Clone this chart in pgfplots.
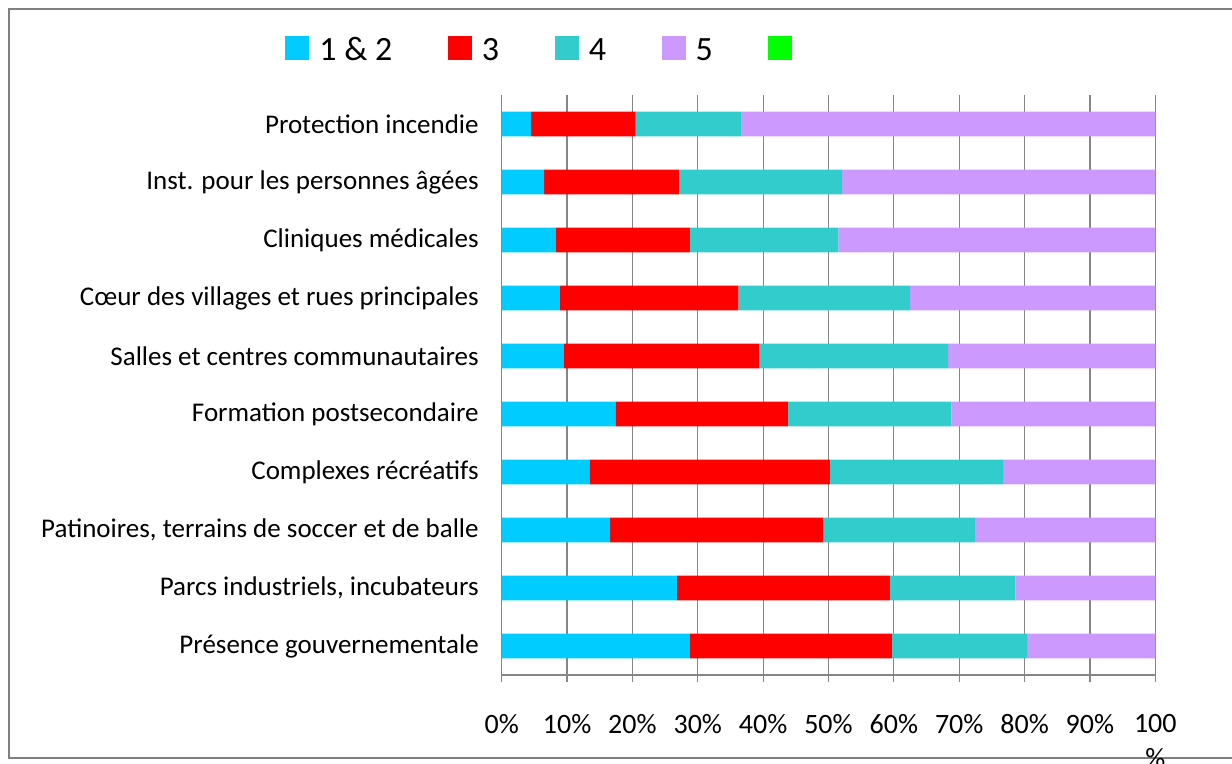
\documentclass[border=0pt]{standalone}
\usepackage{pgfplots}
\usepackage{pgfplotstable}
\pgfplotsset{compat=1.18}
\usepackage{fontspec}
\setmainfont{Carlito}

\definecolor{cOneTwo}{RGB}{0,204,255}
\definecolor{cThree}{RGB}{255,0,0}
\definecolor{cFour}{RGB}{51,204,204}
\definecolor{cFive}{RGB}{204,153,255}
\definecolor{cSix}{RGB}{0,255,0}
\definecolor{gridgray}{RGB}{134,134,134}
\definecolor{framegray}{RGB}{128,128,128}

% share of responses per rating, bottom category first
\pgfplotstableread{
idx one three four five
0 28.8 30.9 20.7 19.6
1 26.8 32.6 19.2 21.4
2 16.6 32.6 23.2 27.6
3 13.4 36.8 26.5 23.3
4 17.4 26.4 25.0 31.2
5 9.5 29.9 28.9 31.7
6 8.9 27.3 26.3 37.5
7 8.3 20.5 22.7 48.5
8 6.5 20.6 25.0 47.9
9 4.5 16.0 16.1 63.4
}\datatable

\begin{document}
\begin{tikzpicture}
\useasboundingbox (0,0) rectangle (616pt,382pt);
\draw[framegray, line width=1pt] (4.5pt,3pt) rectangle (630pt,377.5pt);
\begin{axis}[
  at={(250.85pt,44.5pt)}, anchor=south west,
  scale only axis, width=326.8pt, height=290pt,
  xbar stacked, bar width=0.43,
  xmin=0, xmax=100, ymin=-0.5, ymax=9.5,
  enlargelimits=false,
  axis lines*=left,
  axis line style={draw=gridgray, line width=0.7pt},
  xmajorgrids,
  major grid style={draw=gridgray, line width=0.6pt},
  tick align=outside,
  major tick length=3.5pt, minor tick length=4pt,
  xtick={0,10,...,100},
  xticklabels={0\%,10\%,20\%,30\%,40\%,50\%,60\%,70\%,80\%,90\%,{100\\\%}},
  xtick style={draw=gridgray, line width=0.6pt},
  xticklabel style={font=\fontsize{14}{17.5}\selectfont, align=center},
  xticklabel shift=12.8pt,
  ytick={0,...,9},
  yticklabels={Présence gouvernementale,
    {Parcs industriels, incubateurs},
    {Patinoires, terrains de soccer et de balle},
    Complexes récréatifs,
    Formation postsecondaire,
    Salles et centres communautaires,
    Cœur des villages et rues principales,
    Cliniques médicales,
    Inst. pour les personnes âgées,
    Protection incendie},
  ytick style={draw=none},
  minor ytick={-0.5,0.5,...,9.5},
  minor tick style={draw=gridgray, line width=0.6pt},
  yticklabel style={font=\fontsize{13.5}{16}\selectfont},
  yticklabel shift=4.5pt,
  legend columns=-1,
  legend image code/.code={\fill[#1] (0pt,-4.5pt) rectangle (12pt,7.5pt);},
  legend style={at={(-0.331,1.078)}, anchor=west, draw=none, fill=none,
    inner sep=0pt, outer sep=0pt,
    font=\fontsize{17}{20}\selectfont,
    nodes={inner sep=0pt},
    /tikz/every odd column/.append style={column sep=5pt},
    /tikz/every even column/.append style={column sep=27.8pt}},
]
\addplot[fill=cOneTwo, draw=none] table[x=one, y=idx] \datatable;
\addlegendentry{1 \& 2}
\addplot[fill=cThree, draw=none] table[x=three, y=idx] \datatable;
\addlegendentry{3}
\addplot[fill=cFour, draw=none] table[x=four, y=idx] \datatable;
\addlegendentry{4}
\addplot[fill=cFive, draw=none] table[x=five, y=idx] \datatable;
\addlegendentry{5}
\addlegendimage{fill=cSix, draw=none}
\addlegendentry{}
\end{axis}
\end{tikzpicture}
\end{document}
